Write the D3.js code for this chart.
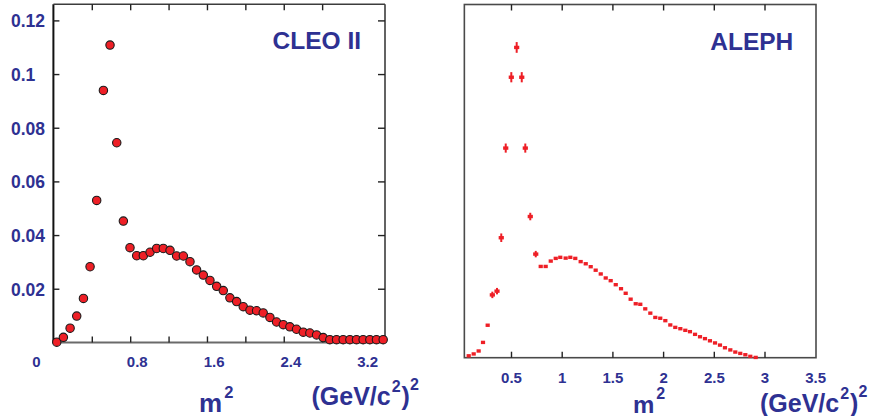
<!DOCTYPE html>
<html>
<head>
<meta charset="utf-8">
<script src="https://cdn.jsdelivr.net/npm/d3@7"></script>
<style>
  body { margin: 0; background: #fff; }
  svg { display: block; }
  text { font-family: "Liberation Sans", Arial, Helvetica, sans-serif; font-weight: bold; fill: #2e3192; }
</style>
</head>
<body>
<svg id="chart" width="869" height="416"></svg>
<script>
// CLEO II spectral function vs m^2
const cleoX = [0.035, 0.104, 0.174, 0.243, 0.313, 0.382, 0.451, 0.521, 0.590, 0.660,
               0.729, 0.798, 0.868, 0.937, 1.007, 1.076, 1.145, 1.215, 1.284, 1.354,
               1.423, 1.492, 1.562, 1.631, 1.701, 1.770, 1.839, 1.909, 1.978, 2.048,
               2.117, 2.186, 2.256, 2.325, 2.395, 2.464, 2.533, 2.603, 2.672, 2.742,
               2.811, 2.880, 2.950, 3.019, 3.089, 3.158, 3.227, 3.297, 3.366, 3.436];
const cleoY = [0.0001, 0.0019, 0.0053, 0.0098, 0.0164, 0.0282, 0.0529, 0.0939, 0.1108, 0.0744,
               0.0452, 0.0353, 0.0323, 0.0323, 0.0336, 0.0350, 0.0350, 0.0343, 0.0322, 0.0322,
               0.0301, 0.0270, 0.0251, 0.0231, 0.0209, 0.0193, 0.0166, 0.0152, 0.0133, 0.0120,
               0.0118, 0.0110, 0.0093, 0.0076, 0.0066, 0.0058, 0.0049, 0.0038, 0.0035, 0.0028,
               0.0018, 0.0010, 0.0010, 0.0010, 0.0010, 0.0010, 0.0010, 0.0010, 0.0010, 0.0010];

// ALEPH spectral function vs m^2, with vertical errors
const alephX = [0.083, 0.132, 0.181, 0.224, 0.270, 0.316, 0.362, 0.404, 0.448, 0.503,
                0.556, 0.606, 0.641, 0.690, 0.744, 0.793, 0.842, 0.892, 0.941, 0.986,
                1.039, 1.085, 1.134, 1.187, 1.237, 1.286, 1.335, 1.385, 1.434, 1.483,
                1.533, 1.585, 1.631, 1.680, 1.730, 1.775, 1.824, 1.874, 1.923, 1.972,
                2.022, 2.071, 2.120, 2.170, 2.219, 2.265, 2.315, 2.364, 2.413, 2.462,
                2.512, 2.561, 2.610, 2.663, 2.712, 2.761, 2.811, 2.860, 2.913];
const alephY = [0.0007, 0.0014, 0.0025, 0.0057, 0.0121, 0.0234, 0.0248, 0.0447, 0.0781, 0.1045,
                0.1156, 0.1045, 0.0781, 0.0526, 0.0386, 0.0340, 0.0340, 0.0360, 0.0370, 0.0374,
                0.0371, 0.0374, 0.0370, 0.0358, 0.0350, 0.0339, 0.0326, 0.0312, 0.0297, 0.0287,
                0.0272, 0.0257, 0.0240, 0.0218, 0.0201, 0.0199, 0.0182, 0.0166, 0.0150, 0.0147,
                0.0138, 0.0122, 0.0113, 0.0108, 0.0102, 0.0097, 0.0087, 0.0078, 0.0071, 0.0063,
                0.0055, 0.0047, 0.0037, 0.0029, 0.0021, 0.0016, 0.0011, 0.0005, 0.0001];
const alephErr = [0, 0, 0, 0, 0.0004, 0.0012, 0.0012, 0.0016, 0.0017, 0.0019,
                  0.0020, 0.0019, 0.0017, 0.0014, 0.0012, 0, 0, 0, 0, 0,
                  0, 0, 0, 0, 0, 0, 0, 0, 0, 0,
                  0, 0, 0, 0, 0, 0, 0, 0, 0, 0,
                  0, 0, 0, 0, 0, 0, 0, 0, 0, 0,
                  0, 0, 0, 0, 0, 0, 0, 0, 0];

// Tick positions and labels
const cleoYTicks = [0.02, 0.04, 0.06, 0.08, 0.1, 0.12];
const cleoXTicks = [0.4, 0.8, 1.2, 1.6, 2.0, 2.4, 2.8];
const cleoXLabels = [0, 0.8, 1.6, 2.4, 3.2];
const alephXTicks = [0.5, 1, 1.5, 2, 2.5, 3];
const alephXLabels = [0.5, 1, 1.5, 2, 2.5, 3, 3.5];

const svg = d3.select("#chart");
svg.append("rect").attr("width", 869).attr("height", 416).attr("fill", "#fff");

const RED = "#ee1f26";
const FRAME = "#3c3c3c";

function strip(g) { g.select(".domain").remove(); }

/* ---------------- Left panel: CLEO II ---------------- */
const xL = d3.scaleLinear().domain([0, 3.455]).range([53.4, 385]);
const yL = d3.scaleLinear().domain([0, 0.126]).range([342.4, 4.3]);
const left = svg.append("g");

// frame
left.append("line").attr("x1", xL(0)).attr("x2", xL(0)).attr("y1", yL(0.126)).attr("y2", yL(0))
  .attr("stroke", "#111").attr("stroke-width", 2);
left.append("line").attr("x1", xL(0)).attr("x2", xL(3.455)).attr("y1", yL(0.126)).attr("y2", yL(0.126))
  .attr("stroke", FRAME).attr("stroke-width", 1.6);
left.append("line").attr("x1", xL(3.455)).attr("x2", xL(3.455)).attr("y1", yL(0.126)).attr("y2", yL(0))
  .attr("stroke", FRAME).attr("stroke-width", 1.6);
left.append("line").attr("x1", xL(0)).attr("x2", xL(3.455)).attr("y1", yL(0)).attr("y2", yL(0))
  .attr("stroke", "#6a6a6a").attr("stroke-width", 2);

// inner ticks on all four sides
left.append("g").attr("transform", `translate(0,${yL(0.126)})`)
  .call(d3.axisTop(xL).tickValues(cleoXTicks).tickSize(-6).tickFormat(""))
  .call(strip).selectAll("line").attr("stroke", "#222").attr("stroke-width", 1.4);
left.append("g").attr("transform", `translate(0,${yL(0)})`)
  .call(d3.axisBottom(xL).tickValues(cleoXTicks).tickSize(-6).tickFormat(""))
  .call(strip).selectAll("line").attr("stroke", "#222").attr("stroke-width", 1.4);
left.append("g").attr("transform", `translate(${xL(3.455)},0)`)
  .call(d3.axisRight(yL).tickValues(cleoYTicks).tickSize(-7).tickFormat(""))
  .call(strip).selectAll("line").attr("stroke", "#222").attr("stroke-width", 1.4);

// y axis with labels
const yAxL = left.append("g").attr("transform", `translate(${xL(0)},0)`)
  .call(d3.axisLeft(yL).tickValues(cleoYTicks).tickSize(-6).tickFormat(d3.format("")))
  .call(strip);
yAxL.selectAll("line").attr("stroke", "#222").attr("stroke-width", 1.4);
yAxL.selectAll("text")
  .attr("x", 11 - xL(0)).attr("dy", "0.36em")
  .attr("text-anchor", "start")
  .style("font-size", "17.5px");

// x labels
const xLabL = left.append("g").attr("transform", `translate(0,${yL(0)})`)
  .call(d3.axisBottom(xL).tickValues(cleoXLabels).tickSize(0).tickFormat(d3.format("")))
  .call(strip);
xLabL.selectAll("text")
  .attr("y", 24.3).attr("dy", 0)
  .attr("dx", d => d === 0 ? -17.4 : 6.6)
  .style("font-size", "15px");

// markers
left.append("g").selectAll("circle")
  .data(cleoX.map((x, i) => [x, cleoY[i]]))
  .join("circle")
  .attr("cx", d => xL(d[0])).attr("cy", d => yL(d[1]))
  .attr("r", 4.2)
  .attr("fill", RED).attr("stroke", "#1a1a1a").attr("stroke-width", 1.1);

left.append("text").attr("x", 361).attr("y", 49.3).attr("text-anchor", "end")
  .style("font-size", "24.5px").text("CLEO II");

// axis title
const tL1 = left.append("text").attr("x", 199).attr("y", 411.5).style("font-size", "26px");
tL1.append("tspan").text("m");
tL1.append("tspan").attr("dx", 2).attr("dy", -14).style("font-size", "16.5px").text("2");
const tL2 = left.append("text").attr("x", 311.5).attr("y", 405).style("font-size", "25px");
tL2.append("tspan").text("(GeV/c");
tL2.append("tspan").attr("dx", 1).attr("dy", -13).style("font-size", "16px").text("2");
tL2.append("tspan").attr("dx", 1).attr("dy", 13).text(")");
tL2.append("tspan").attr("dy", -15).style("font-size", "16px").text("2");

/* ---------------- Right panel: ALEPH ---------------- */
const xR = d3.scaleLinear().domain([0, 3.5]).range([460.3, 815.2]);
const yR = d3.scaleLinear().domain([0, 0.1316]).range([357.7, 4.5]);
const right = svg.append("g");

right.append("rect")
  .attr("x", xR(0.04)).attr("y", yR(0.1316))
  .attr("width", xR(3.5) - xR(0.04) + 0.8).attr("height", yR(0) - yR(0.1316))
  .attr("fill", "none").attr("stroke", "#4a4a4a").attr("stroke-width", 1.6);

right.append("g").attr("transform", `translate(0,${yR(0.1316)})`)
  .call(d3.axisTop(xR).tickValues(alephXTicks).tickSize(-6).tickFormat(""))
  .call(strip).selectAll("line").attr("stroke", "#222").attr("stroke-width", 1.4);
const xAxR = right.append("g").attr("transform", `translate(0,${yR(0)})`)
  .call(d3.axisBottom(xR).tickValues(alephXTicks).tickSize(-6).tickFormat(""))
  .call(strip);
xAxR.selectAll("line").attr("stroke", "#222").attr("stroke-width", 1.4);

const xLabR = right.append("g").attr("transform", `translate(0,${yR(0)})`)
  .call(d3.axisBottom(xR).tickValues(alephXLabels).tickSize(0).tickFormat(d3.format("")))
  .call(strip);
xLabR.selectAll("text")
  .attr("y", 25).attr("dy", 0)
  .style("font-size", "15px");

// error bars and markers
const pts = alephX.map((x, i) => ({ x, y: alephY[i], e: alephErr[i] }));
right.append("g").selectAll("line")
  .data(pts.filter(d => d.e > 0))
  .join("line")
  .attr("x1", d => xR(d.x)).attr("x2", d => xR(d.x))
  .attr("y1", d => yR(d.y - d.e)).attr("y2", d => yR(d.y + d.e))
  .attr("stroke", RED).attr("stroke-width", 2);
right.append("g").selectAll("rect")
  .data(pts)
  .join("rect")
  .attr("x", d => xR(d.x) - (d.e > 0.001 ? 2.6 : 2.1))
  .attr("y", d => yR(d.y) - 1.7)
  .attr("width", d => d.e > 0.001 ? 5.2 : 4.2)
  .attr("height", 3.4)
  .attr("fill", RED);

right.append("text").attr("x", 793.3).attr("y", 50).attr("text-anchor", "end")
  .style("font-size", "24.5px").text("ALEPH");

const tR1 = right.append("text").attr("x", 633).attr("y", 413).style("font-size", "24px");
tR1.append("tspan").text("m");
tR1.append("tspan").attr("dx", 2).attr("dy", -14).style("font-size", "16px").text("2");
const tR2 = right.append("text").attr("x", 760).attr("y", 412).style("font-size", "25px");
tR2.append("tspan").text("(GeV/c");
tR2.append("tspan").attr("dx", 1).attr("dy", -13).style("font-size", "16px").text("2");
tR2.append("tspan").attr("dx", 1).attr("dy", 13).text(")");
tR2.append("tspan").attr("dy", -15).style("font-size", "16px").text("2");
</script>
</body>
</html>
